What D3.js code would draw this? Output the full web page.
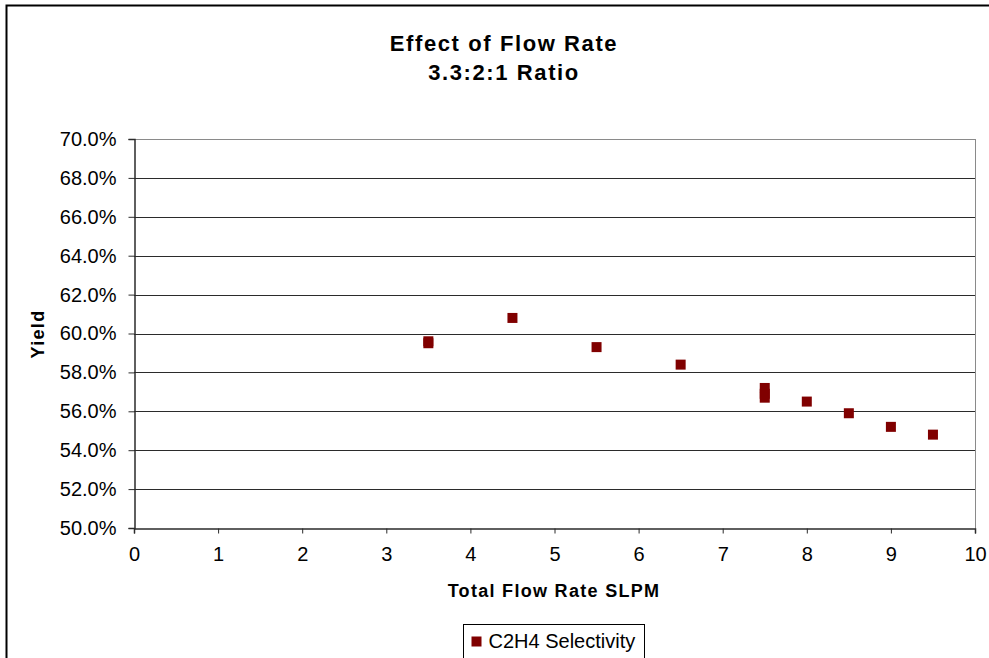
<!DOCTYPE html>
<html>
<head>
<meta charset="utf-8">
<script src="https://cdn.jsdelivr.net/npm/d3@7"></script>
<style>
  body { margin: 0; background: #fff; }
  text { font-family: "Liberation Sans", Arial, sans-serif; fill: #000; }
</style>
</head>
<body>
<div id="chart"></div>
<script>
const flowRate = [3.5, 3.5, 4.5, 5.5, 6.5, 7.5, 7.5, 7.5, 8, 8.5, 9, 9.5];
const selectivity = [0.596, 0.595, 0.608, 0.593, 0.584, 0.572, 0.569, 0.567, 0.565, 0.559, 0.552, 0.548];
const xTicks = [0, 1, 2, 3, 4, 5, 6, 7, 8, 9, 10];
const yTicks = [0.50, 0.52, 0.54, 0.56, 0.58, 0.60, 0.62, 0.64, 0.66, 0.68, 0.70];
const seriesName = 'C2H4 Selectivity';

const width = 989, height = 658;
const margin = { top: 139, right: 14, bottom: 130, left: 134 };
const plotW = width - margin.left - margin.right;
const plotH = height - margin.top - margin.bottom;

const svg = d3.select('#chart').append('svg')
    .attr('width', width)
    .attr('height', height);

// outer chart border
svg.append('rect')
    .attr('x', 6.5).attr('y', 5.5)
    .attr('width', width + 10).attr('height', height + 10)
    .attr('fill', 'none').attr('stroke', '#000').attr('stroke-width', 2);

const g = svg.append('g')
    .attr('transform', 'translate(' + margin.left + ',' + margin.top + ')');

const x = d3.scaleLinear().domain([0, 10]).range([0, plotW]);
const y = d3.scaleLinear().domain([0.5, 0.7]).range([plotH, 0]);

// gridlines
g.selectAll('line.grid')
    .data(yTicks.slice(1))
    .enter().append('line')
    .attr('class', 'grid')
    .attr('x1', 0).attr('x2', plotW)
    .attr('y1', d => Math.round(y(d)) + 0.5).attr('y2', d => Math.round(y(d)) + 0.5)
    .attr('stroke', d => d === 0.7 ? '#8a8a8a' : '#2b2b2b')
    .attr('stroke-width', 1);

// right plot border
g.append('line')
    .attr('x1', plotW + 0.5).attr('x2', plotW + 0.5)
    .attr('y1', 0).attr('y2', plotH)
    .attr('stroke', '#8a8a8a');

// axes
const xAxis = g.append('g')
    .attr('transform', 'translate(0,' + (plotH + 0.5) + ')')
    .call(d3.axisBottom(x).tickValues(xTicks).tickSize(5).tickPadding(13).tickFormat(d3.format('d')));
const yAxis = g.append('g')
    .attr('transform', 'translate(0.5,0)')
    .call(d3.axisLeft(y).tickValues(yTicks).tickSize(6).tickPadding(12).tickFormat(d3.format('.1%')));

[xAxis, yAxis].forEach(a => {
    a.select('.domain').attr('stroke', '#2b2b2b').attr('stroke-width', 1.5);
    a.selectAll('.tick line').attr('stroke', '#2b2b2b');
    a.selectAll('.tick text')
        .style('font-family', '"Liberation Sans", Arial, sans-serif')
        .style('font-size', '20px')
        .attr('fill', '#000');
});

// points
const pts = flowRate.map((f, i) => ({ f: f, v: selectivity[i] }));
g.selectAll('rect.pt')
    .data(pts)
    .enter().append('rect')
    .attr('class', 'pt')
    .attr('x', d => x(d.f) - 5).attr('y', d => y(d.v) - 5)
    .attr('width', 10).attr('height', 10)
    .attr('fill', '#800000');

// titles
svg.append('text')
    .attr('x', 504).attr('y', 51)
    .attr('text-anchor', 'middle')
    .style('font-size', '22px').style('font-weight', 'bold').style('letter-spacing', '1.6px')
    .text('Effect of Flow Rate');
svg.append('text')
    .attr('x', 504).attr('y', 80)
    .attr('text-anchor', 'middle')
    .style('font-size', '22px').style('font-weight', 'bold').style('letter-spacing', '1.6px')
    .text('3.3:2:1 Ratio');

svg.append('text')
    .attr('x', 554).attr('y', 597)
    .attr('text-anchor', 'middle')
    .style('font-size', '18px').style('font-weight', 'bold').style('letter-spacing', '1.3px')
    .text('Total Flow Rate SLPM');

svg.append('text')
    .attr('transform', 'translate(44,334) rotate(-90)')
    .attr('text-anchor', 'middle')
    .style('font-size', '18px').style('font-weight', 'bold').style('letter-spacing', '1.3px')
    .text('Yield');

// legend
const legend = svg.append('g').attr('transform', 'translate(463.5,624.5)');
legend.append('rect')
    .attr('width', 181).attr('height', 34)
    .attr('fill', '#fff').attr('stroke', '#000');
legend.append('rect')
    .attr('x', 8).attr('y', 12).attr('width', 10).attr('height', 10)
    .attr('fill', '#800000');
legend.append('text')
    .attr('x', 25).attr('y', 23)
    .style('font-size', '20px')
    .text(seriesName);
</script>
</body>
</html>
